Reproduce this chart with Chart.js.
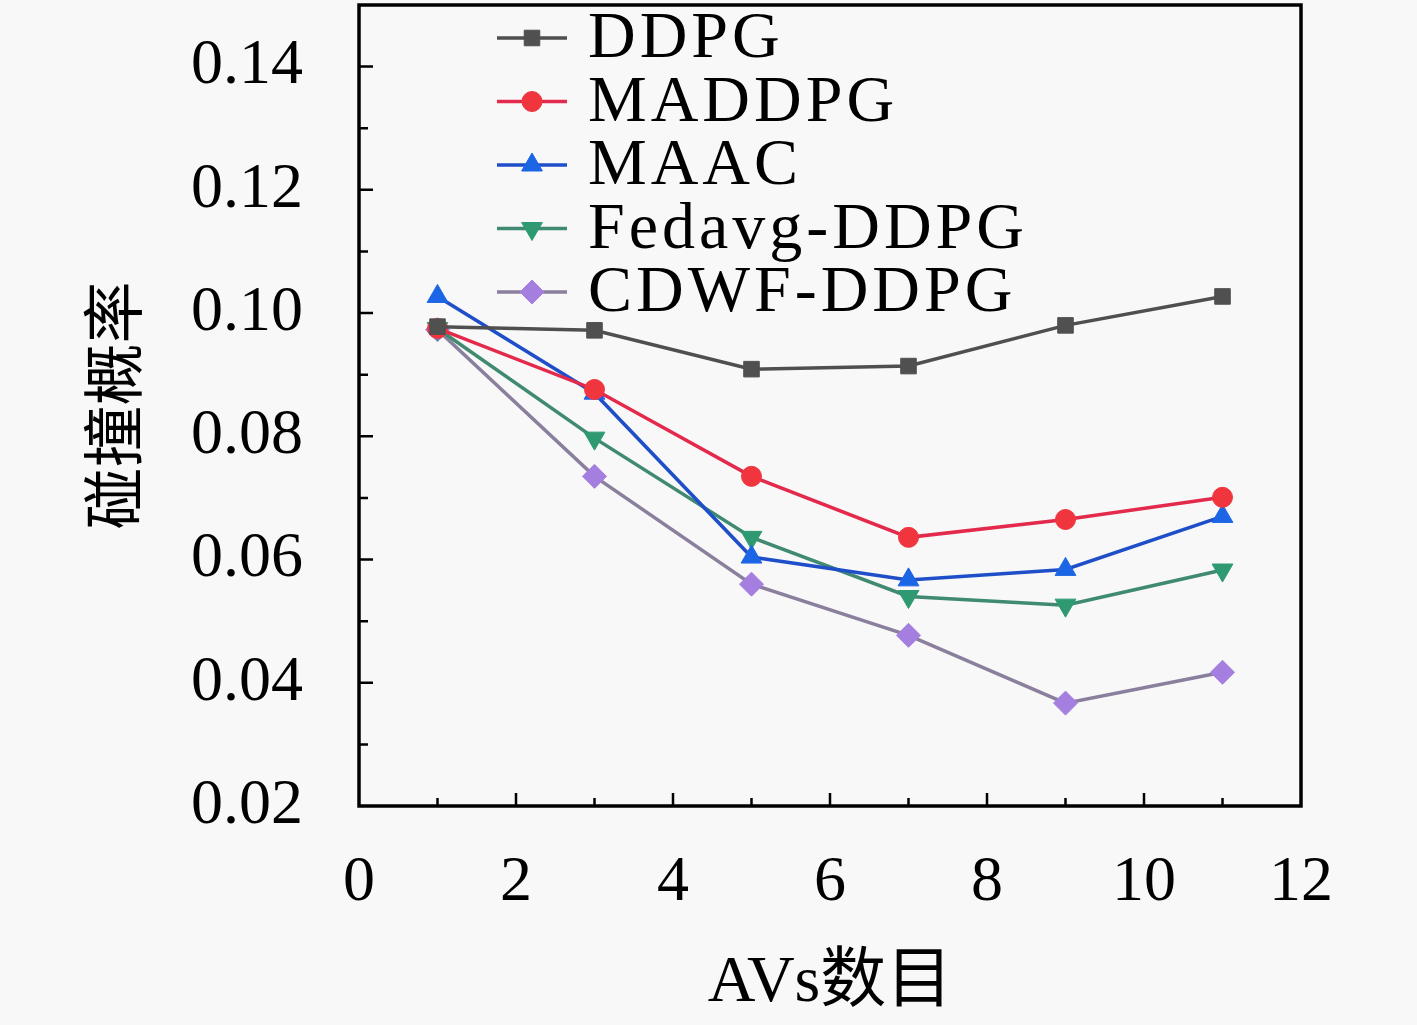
<!DOCTYPE html>
<html>
<head>
<meta charset="utf-8">
<script src="https://cdn.jsdelivr.net/npm/chart.js@4/dist/chart.umd.min.js"></script>
<style>
html,body{margin:0;padding:0;background:#f8f8f8;}
#wrap{width:1417px;height:1025px;position:relative;}
</style>
</head>
<body>
<div id="wrap"><canvas id="c"></canvas></div>
<script>
const xValues = [1, 3, 5, 7, 9, 11];
const seriesNames = ['DDPG', 'MADDPG', 'MAAC', 'Fedavg-DDPG', 'CDWF-DDPG'];
const ddpg   = [0.0978, 0.0972, 0.0909, 0.0914, 0.0980, 0.1027];
const maddpg = [0.0975, 0.0876, 0.0735, 0.0636, 0.0665, 0.0701];
const maac   = [0.1027, 0.0870, 0.0604, 0.0567, 0.0584, 0.0670];
const fedavg = [0.0975, 0.0797, 0.0636, 0.0540, 0.0526, 0.0583];
const cdwf   = [0.0973, 0.0735, 0.0560, 0.0477, 0.0367, 0.0417];
const xTicks = [0, 2, 4, 6, 8, 10, 12];
const xMinorTicks = [1, 3, 5, 7, 9, 11];
const yTicks = [0.02, 0.04, 0.06, 0.08, 0.10, 0.12, 0.14];
const yMinorTicks = [0.03, 0.05, 0.07, 0.09, 0.11, 0.13];
const xTitle = 'AVs数目';
const yTitle = '碰撞概率';

const FONT = "'Liberation Serif', 'Noto Sans CJK SC', serif";

function pts(arr){ return xValues.map((x,i)=>({x:x, y:arr[i]})); }

const styles = [
  {line:'#4f4f4f', point:'#505050', shape:'rect', r:11, rot:0},
  {line:'#e42a4c', point:'#f0353f', shape:'circle', r:10, rot:0},
  {line:'#1f4fc8', point:'#1c66e6', shape:'triangle', r:12, rot:0},
  {line:'#3f8a70', point:'#2f9a72', shape:'triangle', r:12, rot:180},
  {line:'#8a7f9c', point:'#a47fe0', shape:'rectRot', r:12, rot:0}
];
const seriesData = [ddpg, maddpg, maac, fedavg, cdwf];

const datasets = seriesNames.map((n,i)=>({
  label:n,
  data:pts(seriesData[i]),
  borderColor:styles[i].line,
  backgroundColor:styles[i].point,
  pointBackgroundColor:styles[i].point,
  pointBorderColor:styles[i].point,
  pointBorderWidth:1,
  pointStyle:styles[i].shape,
  pointRadius:styles[i].r,
  pointRotation:styles[i].rot,
  borderWidth:3.5,
  tension:0,
  clip:false
}));

const framePlugin = {
  id:'frame',
  beforeDraw(chart){
    const ctx = chart.ctx;
    ctx.save();
    ctx.fillStyle = '#f8f8f8';
    ctx.fillRect(0,0,chart.width,chart.height);
    ctx.restore();
  },
  afterDatasetsDraw(chart){
    const ctx = chart.ctx, a = chart.chartArea;
    const xs = chart.scales.x, ys = chart.scales.y;
    ctx.save();
    ctx.strokeStyle = '#000';
    ctx.lineWidth = 2.5;
    ctx.beginPath();
    xTicks.forEach(v=>{ const p = xs.getPixelForValue(v); if(v>0&&v<12){ctx.moveTo(p,a.bottom);ctx.lineTo(p,a.bottom-13);} });
    xMinorTicks.forEach(v=>{ const p = xs.getPixelForValue(v); ctx.moveTo(p,a.bottom);ctx.lineTo(p,a.bottom-8); });
    yTicks.forEach(v=>{ const p = ys.getPixelForValue(v); if(v>0.02){ctx.moveTo(a.left,p);ctx.lineTo(a.left+14,p);} });
    yMinorTicks.forEach(v=>{ const p = ys.getPixelForValue(v); ctx.moveTo(a.left,p);ctx.lineTo(a.left+9,p); });
    ctx.stroke();
    ctx.lineWidth = 3.5;
    ctx.strokeRect(a.left, a.top, a.right-a.left, a.bottom-a.top);
    ctx.restore();
  },
  afterDraw(chart){
    const ctx = chart.ctx;
    const x0 = 497, x1 = 567, xm = 532, xt = 588;
    const ys0 = 38, dy = 63.5;
    ctx.save();
    chart.data.datasets.forEach((ds,i)=>{
      const y = ys0 + i*dy;
      ctx.strokeStyle = ds.borderColor;
      ctx.lineWidth = 3.5;
      ctx.beginPath(); ctx.moveTo(x0,y); ctx.lineTo(x1,y); ctx.stroke();
      ctx.fillStyle = ds.pointBackgroundColor;
      ctx.strokeStyle = ds.pointBorderColor;
      ctx.lineWidth = 1;
      if (Chart.helpers && Chart.helpers.drawPoint) {
        Chart.helpers.drawPoint(ctx, {pointStyle:ds.pointStyle, radius:ds.pointRadius, rotation:ds.pointRotation, borderWidth:1}, xm, y);
      }
      ctx.fillStyle = '#000';
      ctx.font = "66px " + FONT;
      try { ctx.letterSpacing = '4px'; } catch(e) {}
      ctx.textBaseline = 'middle';
      ctx.textAlign = 'left';
      ctx.fillText(ds.label, xt, y+2);
    });
    ctx.restore();
  }
};

new Chart(document.getElementById('c'), {
  type:'line',
  data:{datasets:datasets},
  options:{
    responsive:true,
    maintainAspectRatio:false,
    animation:false,
    devicePixelRatio:1,
    layout:{autoPadding:false, padding:{top:5,right:116,left:0,bottom:0}},
    plugins:{legend:{display:false}, tooltip:{enabled:false}},
    scales:{
      x:{
        type:'linear', min:0, max:12,
        afterFit(s){ s.height = 219; s.paddingLeft = 0; s.paddingRight = 0; s.paddingTop = 0; s.paddingBottom = 0; },
        afterBuildTicks(s){ s.ticks = xTicks.map(v=>({value:v})); },
        grid:{display:false},
        border:{display:false},
        ticks:{color:'#000', padding:31, font:{family:FONT, size:64}, maxRotation:0, autoSkip:false},
        title:{display:true, text:xTitle, color:'#000', font:{family:FONT, size:66}, padding:{top:0,bottom:2}}
      },
      y:{
        type:'linear', min:0.02, max:0.15,
        afterFit(s){ s.width = 359; s.paddingTop = 0; s.paddingBottom = 0; s.paddingLeft = 0; s.paddingRight = 0; },
        afterBuildTicks(s){ s.ticks = yTicks.map(v=>({value:v})); },
        grid:{display:false},
        border:{display:false},
        ticks:{color:'#000', padding:48, font:{family:FONT, size:64}, callback:v=>Number(v).toFixed(2), autoSkip:false},
        title:{display:true, text:yTitle, color:'#000', font:{family:FONT, size:62}, padding:{top:84,bottom:0}}
      }
    }
  },
  plugins:[framePlugin]
});
</script>
</body>
</html>
